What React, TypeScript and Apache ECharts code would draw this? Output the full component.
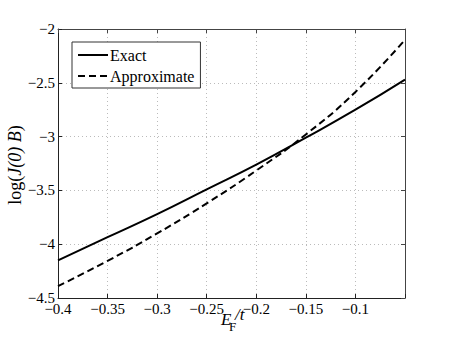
import React, { useEffect, useRef } from "react";
import * as echarts from "echarts";

const xValues = [-0.4, -0.35, -0.3, -0.25, -0.2, -0.15, -0.1, -0.05];
const exactValues = [-4.15, -3.935, -3.72, -3.49, -3.26, -3.01, -2.75, -2.47];
const approxValues = [-4.39, -4.155, -3.9, -3.62, -3.315, -2.98, -2.585, -2.1];
const seriesNames = ["Exact", "Approximate"];
const xRange = { min: -0.4, max: -0.05, interval: 0.05 };
const yRange = { min: -4.5, max: -2, interval: 0.5 };

const FONT = "Liberation Serif, Times New Roman, serif";

const fmt = (v: number) => {
  const r = Math.round(v * 100) / 100;
  return String(r).replace("-", "\u2212");
};

export default function App() {
  const ref = useRef<HTMLDivElement>(null);
  useEffect(() => {
    if (!ref.current) return;
    const chart = echarts.init(ref.current, undefined, { renderer: "svg" });
    const axisColor = "#222";
    const grid = { left: 58, right: 45, top: 29, bottom: 46 };
    chart.setOption({
      animation: false,
      backgroundColor: "#fff",
      grid,
      legend: {
        orient: "vertical",
        left: 72,
        top: 42,
        padding: [5, 6, 4, 5],
        itemGap: 5,
        itemWidth: 30,
        itemHeight: 16,
        borderColor: "#333",
        borderWidth: 1,
        backgroundColor: "#fff",
        itemStyle: { opacity: 0 },
        textStyle: { fontFamily: FONT, fontSize: 16, lineHeight: 16, color: "#000", padding: [0, 0, 0, -3] },
        data: seriesNames,
      },
      xAxis: [
        {
          type: "value",
          min: xRange.min,
          max: xRange.max,
          interval: xRange.interval,
          axisLine: { show: true, onZero: false, lineStyle: { color: axisColor, width: 1 } },
          axisTick: { show: true, inside: true, length: 4, lineStyle: { color: axisColor } },
          axisLabel: {
            margin: 3,
            fontFamily: FONT,
            fontSize: 15,
            color: "#000",
            formatter: (v: number) => (v > -0.06 ? "" : fmt(v)),
          },
          splitLine: { show: true, lineStyle: { type: [1, 3], color: "#bbb" } },
        },
        {
          type: "value",
          position: "top",
          min: xRange.min,
          max: xRange.max,
          interval: xRange.interval,
          axisLine: { show: true, onZero: false, lineStyle: { color: "#444", width: 1 } },
          axisTick: { show: true, inside: true, length: 4, lineStyle: { color: "#444" } },
          axisLabel: { show: false },
          splitLine: { show: false },
        },
      ],
      yAxis: [
        {
          type: "value",
          min: yRange.min,
          max: yRange.max,
          interval: yRange.interval,
          axisLine: { show: true, onZero: false, lineStyle: { color: axisColor, width: 1 } },
          axisTick: { show: true, inside: true, length: 4, lineStyle: { color: axisColor } },
          axisLabel: {
            margin: 3,
            fontFamily: FONT,
            fontSize: 15,
            color: "#000",
            formatter: (v: number) => fmt(v),
          },
          splitLine: { show: true, lineStyle: { type: [1, 3], color: "#bbb" } },
        },
        {
          type: "value",
          position: "right",
          min: yRange.min,
          max: yRange.max,
          interval: yRange.interval,
          axisLine: { show: true, onZero: false, lineStyle: { color: "#444", width: 1 } },
          axisTick: { show: true, inside: true, length: 4, lineStyle: { color: "#444" } },
          axisLabel: { show: false },
          splitLine: { show: false },
        },
      ],
      series: [
        {
          name: seriesNames[0],
          type: "line",
          smooth: 0.5,
          symbol: "none",
          xAxisIndex: 0,
          yAxisIndex: 0,
          lineStyle: { color: "#000", width: 2, type: "solid" },
          itemStyle: { color: "#000" },
          data: xValues.map((x, i) => [x, exactValues[i]]),
        },
        {
          name: seriesNames[1],
          type: "line",
          smooth: 0.5,
          symbol: "none",
          xAxisIndex: 0,
          yAxisIndex: 0,
          lineStyle: { color: "#000", width: 2, type: [7, 4] },
          itemStyle: { color: "#000" },
          data: xValues.map((x, i) => [x, approxValues[i]]),
        },
      ],
      graphic: [
        {
          type: "text",
          x: 15,
          y: 165,
          rotation: Math.PI / 2,
          style: {
            text: "{n|log(}{i|J(0) B}{n|)}",
            align: "center",
            verticalAlign: "middle",
            fill: "#000",
            rich: {
              n: { fontFamily: FONT, fontSize: 18, fill: "#000" },
              i: { fontFamily: FONT, fontSize: 18, fontStyle: "italic", fill: "#000" },
            },
          },
        },
        {
          type: "text",
          x: 221,
          y: 311,
          style: { text: "E", fontFamily: FONT, fontSize: 17, fontStyle: "italic", fill: "#000" },
        },
        {
          type: "text",
          x: 229,
          y: 320,
          style: { text: "F", fontFamily: FONT, fontSize: 13, fill: "#000" },
        },
        {
          type: "text",
          x: 235,
          y: 306,
          style: { text: "/t", fontFamily: FONT, fontSize: 17, fontStyle: "italic", fill: "#000" },
        },
      ],
    });
    return () => chart.dispose();
  }, []);
  return (
    <div
      ref={ref}
      style={{ position: "fixed", left: 0, top: 0, width: 450, height: 344, background: "#fff" }}
    />
  );
}
